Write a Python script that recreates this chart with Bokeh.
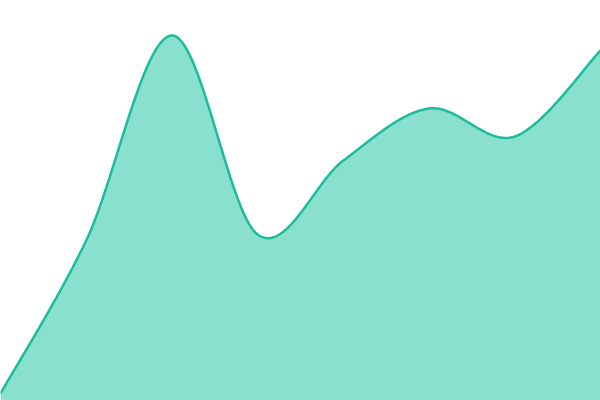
import numpy as np
from bokeh.plotting import figure
from bokeh.models import Range1d
from bokeh.embed import file_html
from bokeh.resources import INLINE

# data
categories = [0, 1, 2, 3, 4, 5, 6, 7]
values = [7, 160, 365, 166, 240, 292, 264, 350]

LINE = "#1abc9c"
FILL = "#8ae0cf"


def catmull_rom(xs, ys, n=60):
    xs = np.asarray(xs, float)
    ys = np.asarray(ys, float)
    k = len(xs)
    xp = np.concatenate([[xs[0]], xs, [xs[-1]]])
    yp = np.concatenate([[ys[0]], ys, [ys[-1]]])
    ox, oy = [], []
    for i in range(k - 1):
        x0, x1, x2, x3 = xp[i], xp[i + 1], xp[i + 2], xp[i + 3]
        y0, y1, y2, y3 = yp[i], yp[i + 1], yp[i + 2], yp[i + 3]
        # bezier control points (cardinal, tension 0)
        c1x, c1y = x1 + (x2 - x0) / 6, y1 + (y2 - y0) / 6
        c2x, c2y = x2 - (x3 - x1) / 6, y2 - (y3 - y1) / 6
        t = np.linspace(0, 1, n, endpoint=(i == k - 2))
        a = (1 - t) ** 3
        b = 3 * (1 - t) ** 2 * t
        c = 3 * (1 - t) * t ** 2
        d = t ** 3
        ox.append(a * x1 + b * c1x + c * c2x + d * x2)
        oy.append(a * y1 + b * c1y + c * c2y + d * y2)
    return np.concatenate(ox), np.concatenate(oy)


cx, cy = catmull_rom(categories, values)

p = figure(width=600, height=400, output_backend="svg", toolbar_location=None,
           x_range=Range1d(0, 7), y_range=Range1d(0, 400),
           min_border=0, outline_line_color=None)
p.axis.visible = False
p.grid.visible = False
p.background_fill_color = "white"
p.border_fill_color = "white"

p.varea(x=cx, y1=np.zeros_like(cy), y2=cy, fill_color=FILL, fill_alpha=1.0)
p.line(x=cx, y=cy, line_color=LINE, line_width=2.5)

html = file_html(p, INLINE)
html = html.replace("<head>", "<head><style>html,body{margin:0;padding:0;overflow:hidden;}</style>", 1)
open("out.html", "w").write(html)
